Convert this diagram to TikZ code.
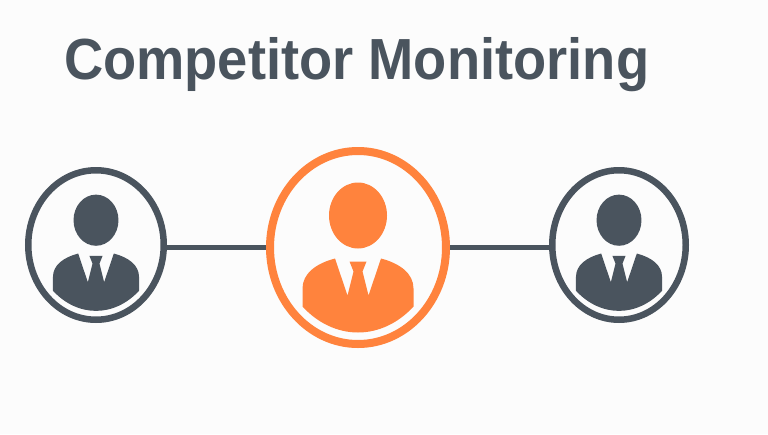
\documentclass[tikz,border=0pt]{standalone}
\usepackage{fontspec}
\setmainfont{Liberation Sans}
\usetikzlibrary{shapes.geometric}
\definecolor{slate}{HTML}{4A545E}
\definecolor{accent}{HTML}{FF833D}
\tikzset{
  ring/.style={ellipse,draw,inner sep=0pt},
  link/.style={draw=slate,line width=5.5pt},
  pics/person/.style={code={
    \path[pic actions] (0,-32) ellipse (29 and 33);
    \path[pic actions] (-23,11) .. controls (-42,16) and (-55.5,26) .. (-55.5,41)
      -- (-55.5,59) .. controls (-40,76) and (-20,85) .. (0,85)
      .. controls (20,85) and (40,76) .. (55.5,59) -- (55.5,41)
      .. controls (55.5,26) and (42,16) .. (23,11)
      -- (10.5,48) -- (4.5,24) -- (8.5,14) -- (-8.5,14) -- (-4.5,24) -- (-10.5,48) -- cycle;
  }}
}
\begin{document}
\begin{tikzpicture}[x=1pt,y=-1pt]
  \useasboundingbox[fill=white!99!black] (0,0) rectangle (768,434);
  \node[inner sep=0pt,anchor=base west,text=slate,xscale=0.936,font=\fontsize{58}{58}\selectfont\bfseries] (title) at (64,79) {Competitor Monitoring};
  \node[ring,draw=slate,line width=6.5pt,minimum width=135.5pt,minimum height=149.5pt] (left) at (96,245) {};
  \node[ring,draw=accent,line width=8pt,minimum width=176pt,minimum height=193pt] (self) at (358,247.5) {};
  \node[ring,draw=slate,line width=6.5pt,minimum width=133.5pt,minimum height=149.5pt] (right) at (619,245) {};
  \path[link] (left.east |- self.west) -- (self.west);
  \path[link] (self.east) -- (right.west |- self.east);
  \pic[fill=slate,scale=0.775] at (left) {person};
  \pic[fill=accent] at (self) {person};
  \pic[fill=slate,scale=0.775] at (right) {person};
\end{tikzpicture}
\end{document}
